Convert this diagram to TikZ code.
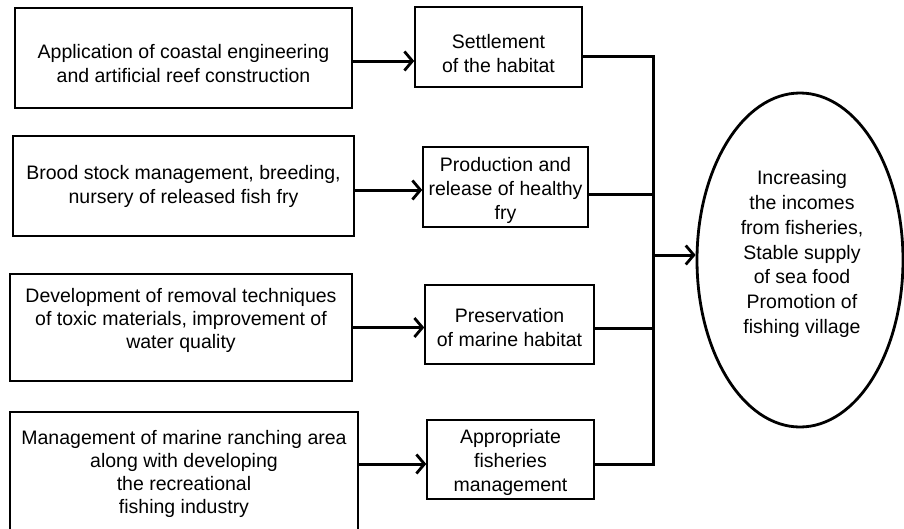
\documentclass[tikz,border=0pt]{standalone}
\usepackage{fontspec}
\setmainfont{Liberation Sans}
\usetikzlibrary{arrows.meta,shapes.geometric}
\begin{document}
\begin{tikzpicture}[x=1pt,y=-1pt,
  txt/.style={font=\fontsize{19.5}{24}\selectfont, align=center, inner sep=0pt},
  txtt/.style={font=\fontsize{19.5}{23}\selectfont, align=center, inner sep=0pt},
  box/.style={draw, line width=1.5pt, rectangle, inner sep=0pt},
  goal/.style={draw, ellipse, line width=2.8pt, inner sep=0pt},
  flow/.style={line width=3pt},
  arr/.style={flow, -{Straight Barb[length=8pt,width=19pt,line width=2.8pt]}}
]
\useasboundingbox (0,0) rectangle (904,528);
\clip (0,0) rectangle (904,528);
% left boxes
\node[box, minimum width=337pt, minimum height=100pt] (L1) at (183.5,58) {};
\node[box, minimum width=341pt, minimum height=100pt] (L2) at (183.5,186) {};
\node[box, minimum width=342pt, minimum height=107pt] (L3) at (181,327.5) {};
\node[box, minimum width=348pt, minimum height=124pt] (L4) at (184,474) {};
\node[txt] (L1t) at ([yshift=-6pt]L1.center)
  {Application of coastal engineering\\and artificial reef construction};
\node[txt] (L2t) at (L2.center)
  {Brood stock management, breeding,\\nursery of released fish fry};
\node[txtt] (L3t) at ([yshift=7pt]L3.center)
  {Development of removal techniques\\of toxic materials, improvement of\\water quality};
\node[txtt] (L4t) at (L4.center)
  {Management of marine ranching area\\along with developing\\the recreational\\fishing industry};
% middle boxes
\node[box, minimum width=167pt, minimum height=80pt] (A) at (498.5,47) {};
\node[box, minimum width=165pt, minimum height=80pt] (B) at (505.5,187) {};
\node[box, minimum width=169pt, minimum height=79pt] (C) at (509.5,324.5) {};
\node[box, minimum width=167pt, minimum height=79pt] (D) at (510.5,459.5) {};
\node[txt] (At) at ([yshift=-7pt]A.center) {Settlement\\of the habitat};
\node[txt] (Bt) at ([yshift=-3pt]B.center) {Production and\\release of healthy\\fry};
\node[txt] (Ct) at ([yshift=-3pt]C.center) {Preservation\\of marine habitat};
\node[txt] (Dt) at ([yshift=-3pt]D.center) {Appropriate\\fisheries\\management};
% goal
\node[goal, minimum width=206pt, minimum height=334pt] (E) at (800,260) {};
\node[font=\fontsize{19.5}{24.7}\selectfont, align=center, inner sep=0pt] (Et) at (802,254)
  {Increasing\\the incomes\\from fisheries,\\Stable supply\\of sea food\\Promotion of\\fishing village};
% arrows left -> middle
\coordinate (l1) at ([yshift=-3pt]L1.east);
\coordinate (l2) at ([yshift=-4pt]L2.east);
\coordinate (l3) at (L3.east);
\coordinate (l4) at ([yshift=10pt]L4.east);
\draw[arr] (l1) -- (l1 -| A.west);
\draw[arr] (l2) -- (l2 -| B.west);
\draw[arr] (l3) -- (l3 -| C.west);
\draw[arr] (l4) -- (l4 -| D.west);
% middle -> bus
\coordinate (bus) at (653,255);
\coordinate (a1) at ([yshift=-9pt]A.east);
\coordinate (b1) at ([yshift=-7pt]B.east);
\coordinate (c1) at ([yshift=-3.5pt]C.east);
\coordinate (d1) at ([yshift=-4.5pt]D.east);
\draw[flow] (a1) -- (a1 -| bus) -- (d1 -| bus) -- (d1);
\draw[flow] (b1) -- (b1 -| bus);
\draw[flow] (c1) -- (c1 -| bus);
\draw[arr] (bus) -- (bus -| E.west);
\end{tikzpicture}
\end{document}
